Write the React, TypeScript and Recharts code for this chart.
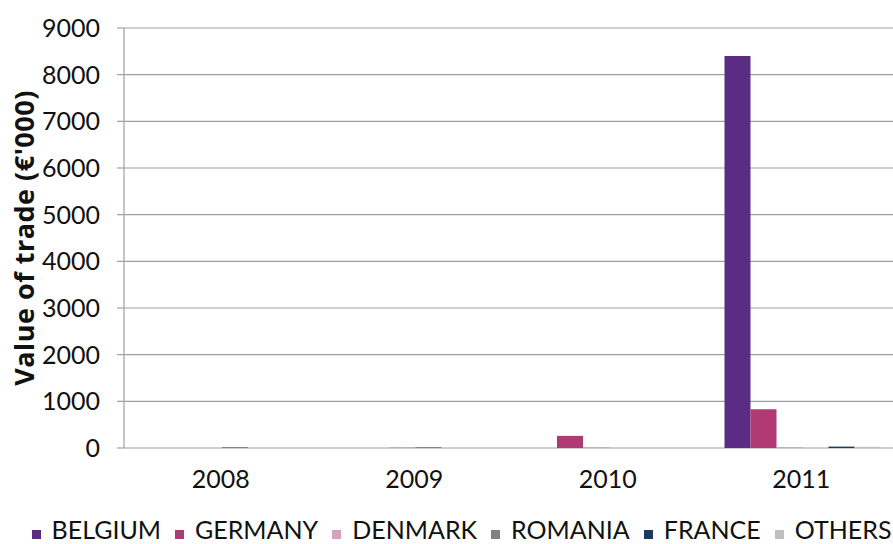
import {
  BarChart,
  Bar,
  XAxis,
  YAxis,
  CartesianGrid,
  Legend,
} from "recharts";

const years = ["2008", "2009", "2010", "2011"];
const belgium = [0, 0, 0, 8400];
const germany = [0, 0, 260, 830];
const denmark = [0, 20, 20, 20];
const romania = [20, 20, 0, 0];
const france = [0, 0, 0, 30];
const others = [0, 0, 0, 25];
const yTicks = [0, 1000, 2000, 3000, 4000, 5000, 6000, 7000, 8000, 9000];
const edgeTicks = [0, 1, 2, 3, 4];

const series = [
  { key: "BELGIUM", values: belgium, color: "#5B2C83" },
  { key: "GERMANY", values: germany, color: "#B03A74" },
  { key: "DENMARK", values: denmark, color: "#D4A1BE" },
  { key: "ROMANIA", values: romania, color: "#808080" },
  { key: "FRANCE", values: france, color: "#1B3A5E" },
  { key: "OTHERS", values: others, color: "#BFBFBF" },
];

const chartData = years.map((year, i) => {
  const row: Record<string, string | number> = { year };
  series.forEach((s) => {
    row[s.key] = s.values[i];
  });
  return row;
});

const FONT = "Lato, 'Open Sans', sans-serif";
const AXIS = "#a0a0a0";
const TEXT = "#111";

// legend is drawn by hand so the order follows the series, not the alphabet
function SeriesLegend() {
  return (
    <div
      style={{
        height: 40,
        width: 893,
        display: "flex",
        justifyContent: "center",
        alignItems: "flex-end",
        fontFamily: FONT,
        fontSize: 25,
        lineHeight: "25px",
        color: TEXT,
        paddingLeft: 30,
        paddingBottom: 2,
        boxSizing: "border-box",
      }}
    >
      {series.map((s, i) => (
        <span
          key={s.key}
          style={{
            display: "inline-flex",
            alignItems: "baseline",
            marginLeft: i === 0 ? 0 : 14,
          }}
        >
          <span
            style={{
              display: "inline-block",
              width: 9,
              height: 9,
              background: s.color,
              marginRight: 11,
            }}
          />
          {s.key}
        </span>
      ))}
    </div>
  );
}

export default function App() {
  return (
    <div
      style={{
        position: "absolute",
        left: 0,
        top: 0,
        width: 893,
        height: 544,
        overflow: "hidden",
        background: "#fff",
        fontFamily: FONT,
      }}
    >
      <BarChart
        width={898}
        height={544}
        data={chartData}
        margin={{ top: 28, right: 0, left: 0, bottom: 0 }}
        barCategoryGap={20}
        barGap={0}
      >
        <CartesianGrid vertical={false} stroke={AXIS} strokeWidth={1.2} />
        <XAxis
          xAxisId="edge"
          type="number"
          domain={[0, 4]}
          ticks={edgeTicks}
          tick={false}
          tickSize={8}
          height={0}
          stroke={AXIS}
          axisLine={{ stroke: AXIS, strokeWidth: 1.2 }}
          tickLine={{ stroke: AXIS, strokeWidth: 1.2 }}
        />
        <XAxis
          dataKey="year"
          axisLine={false}
          tickLine={false}
          tickSize={0}
          tickMargin={22}
          height={56}
          tick={{ fontSize: 25, fill: TEXT, fontFamily: FONT }}
        />
        <YAxis
          domain={[0, 9000]}
          ticks={yTicks}
          width={124}
          tickSize={7}
          tickMargin={17}
          axisLine={{ stroke: AXIS, strokeWidth: 1.2 }}
          tickLine={{ stroke: AXIS, strokeWidth: 1.2 }}
          tick={{ fontSize: 25, fill: TEXT, fontFamily: FONT }}
          label={{
            value: "Value of trade (€'000)",
            angle: -90,
            position: "insideLeft",
            offset: 24,
            style: {
              fontSize: 27,
              fontWeight: 700,
              letterSpacing: 0.5,
              fill: TEXT,
              fontFamily: "'Open Sans', Lato, sans-serif",
              textAnchor: "middle",
            },
          }}
        />
        <Legend
          verticalAlign="bottom"
          align="left"
          height={40}
          content={<SeriesLegend />}
        />
        {series.map((s) => (
          <Bar
            key={s.key}
            dataKey={s.key}
            name={s.key}
            fill={s.color}
            isAnimationActive={false}
          />
        ))}
      </BarChart>
    </div>
  );
}
